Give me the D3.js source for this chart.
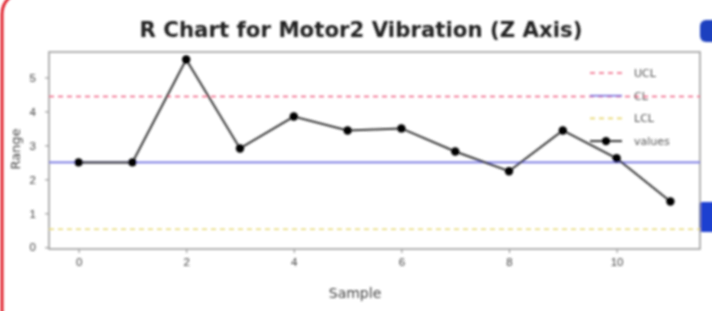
<!DOCTYPE html>
<html>
<head>
<meta charset="utf-8">
<script src="https://cdn.jsdelivr.net/npm/d3@7"></script>
<style>
  body { margin: 0; background: #fff; }
  svg { display: block; font-family: "DejaVu Sans", sans-serif; }
</style>
</head>
<body>
<div id="chart"></div>
<script>
// chart data
const samples = [0, 1, 2, 3, 4, 5, 6, 7, 8, 9, 10, 11];
const ranges = [2.5, 2.5, 5.53, 2.91, 3.85, 3.44, 3.5, 2.82, 2.24, 3.44, 2.62, 1.35];
const ucl = 4.44;
const cl = 2.5;
const lcl = 0.53;
const xTicks = [0, 2, 4, 6, 8, 10];
const yTicks = [0, 1, 2, 3, 4, 5];
const legendItems = ['UCL', 'CL', 'LCL', 'values'];

const W = 712, H = 311;
const margin = { top: 52, right: 12, bottom: 62, left: 49 };

const svg = d3.select('#chart').append('svg')
    .attr('width', W).attr('height', H);

// soft blur, the source is a low-res screenshot
const defs = svg.append('defs');
defs.append('filter').attr('id', 'soft')
    .append('feGaussianBlur').attr('stdDeviation', 1.0);

const root = svg.append('g').attr('filter', 'url(#soft)');

// frame decoration around the figure
root.append('rect')
    .attr('x', 2).attr('y', -8).attr('width', 740).attr('height', 340)
    .attr('rx', 22)
    .attr('fill', 'none').attr('stroke', '#e0202e').attr('stroke-width', 3);
root.append('rect').attr('x', 700).attr('y', 20).attr('width', 20).attr('height', 22)
    .attr('rx', 6).attr('fill', '#1f3fbf');
root.append('rect').attr('x', 699).attr('y', 202).attr('width', 20).attr('height', 30)
    .attr('rx', 3).attr('fill', '#1f3fd0');

const x = d3.scaleLinear()
    .domain([-0.55, 11.55])
    .range([margin.left, W - margin.right]);
const y = d3.scaleLinear()
    .domain([-0.05, 5.75])
    .range([H - margin.bottom, margin.top]);

const xAxis = root.append('g')
    .attr('transform', `translate(0,${H - margin.bottom})`)
    .call(d3.axisBottom(x).tickValues(xTicks).tickSize(4).tickPadding(5));
const yAxis = root.append('g')
    .attr('transform', `translate(${margin.left},0)`)
    .call(d3.axisLeft(y).tickValues(yTicks).tickFormat(d3.format('d'))
        .tickSize(4).tickPadding(9));

[xAxis, yAxis].forEach(ax => {
    ax.select('.domain').remove();
    ax.selectAll('line').attr('stroke', '#888');
    ax.selectAll('text').attr('fill', '#444').attr('font-size', 11.5);
});

// plot frame
root.append('rect')
    .attr('x', margin.left).attr('y', margin.top)
    .attr('width', W - margin.left - margin.right)
    .attr('height', H - margin.top - margin.bottom)
    .attr('fill', 'none').attr('stroke', '#999').attr('stroke-width', 1.5);

// control lines
const limits = [
    { v: ucl, color: '#f06080', dash: '5,4' },
    { v: cl, color: '#7070e0', dash: null },
    { v: lcl, color: '#e8d870', dash: '5,4' }
];
root.selectAll('.limit').data(limits).enter()
    .append('line').attr('class', 'limit')
    .attr('x1', margin.left).attr('x2', W - margin.right)
    .attr('y1', d => y(d.v)).attr('y2', d => y(d.v))
    .attr('stroke', d => d.color).attr('stroke-width', 1.6)
    .attr('stroke-dasharray', d => d.dash);

// values
const line = d3.line().x((d, i) => x(samples[i])).y(d => y(d));
root.append('path').datum(ranges)
    .attr('d', line)
    .attr('fill', 'none').attr('stroke', '#333').attr('stroke-width', 2);
root.selectAll('.pt').data(ranges).enter()
    .append('circle').attr('class', 'pt')
    .attr('cx', (d, i) => x(samples[i])).attr('cy', d => y(d))
    .attr('r', 4.2).attr('fill', '#000');

// legend
const lg = root.append('g').attr('transform', 'translate(590,73)');
legendItems.forEach((name, i) => {
    const g = lg.append('g').attr('transform', `translate(0,${i * 22.7})`);
    if (i < 3) {
        g.append('line').attr('x1', 0).attr('x2', 32)
            .attr('stroke', limits[i].color).attr('stroke-width', 1.6)
            .attr('stroke-dasharray', limits[i].dash);
    } else {
        g.append('line').attr('x1', 0).attr('x2', 32)
            .attr('stroke', '#333').attr('stroke-width', 2);
        g.append('circle').attr('cx', 16).attr('r', 4.2).attr('fill', '#000');
    }
    g.append('text').attr('x', 44).attr('dy', '0.35em')
        .attr('font-size', 11).attr('fill', '#555').text(name);
});

// title and axis labels
root.append('text')
    .attr('x', 361).attr('y', 37)
    .attr('text-anchor', 'middle')
    .attr('font-size', 22).attr('font-weight', 'bold').attr('fill', '#222')
    .attr('textLength', 443).attr('lengthAdjust', 'spacingAndGlyphs')
    .text('R Chart for Motor2 Vibration (Z Axis)');
root.append('text')
    .attr('x', 355).attr('y', 298)
    .attr('text-anchor', 'middle')
    .attr('font-size', 14).attr('fill', '#444')
    .text('Sample');
root.append('text')
    .attr('transform', 'translate(20,149) rotate(-90)')
    .attr('text-anchor', 'middle')
    .attr('font-size', 13).attr('fill', '#444')
    .text('Range');
</script>
</body>
</html>
